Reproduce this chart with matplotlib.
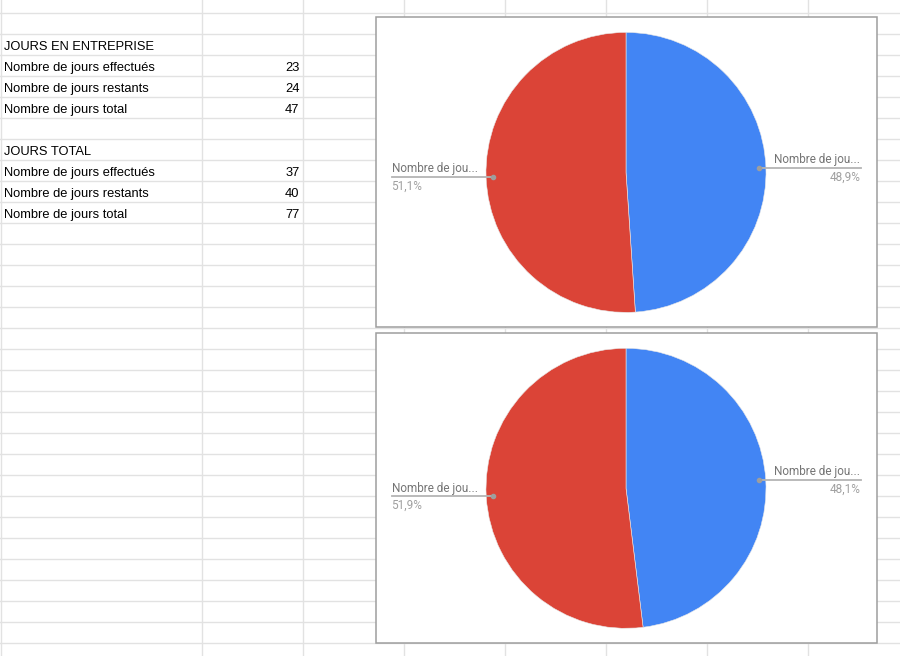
import matplotlib.pyplot as plt
from matplotlib.patches import Rectangle
import numpy as np

# spreadsheet data
sections = ["JOURS EN ENTREPRISE", "JOURS TOTAL"]
row_labels = ["Nombre de jours effectués", "Nombre de jours restants", "Nombre de jours total"]
entreprise = [23, 24, 47]
total = [37, 40, 77]

pie_colors = ["#4285F4", "#DB4437"]

W, H = 900, 656
fig = plt.figure(figsize=(W / 100, H / 100), dpi=100)
bg = fig.add_axes([0, 0, 1, 1])
bg.set_xlim(0, W)
bg.set_ylim(H, 0)
bg.axis("off")

grid_c = "#e2e2e2"
col_lines = [0.5, 202, 303, 404, 505, 606, 707, 808]
row_lines = [13 + 21 * k for k in range(31)]
for x in col_lines:
    bg.plot([x, x], [0, H], color=grid_c, lw=1, zorder=1)
for y in row_lines:
    bg.plot([0, W], [y, y], color=grid_c, lw=1, zorder=1)

# cells
cell_font = dict(family="Liberation Sans", fontsize=9.3, color="black", zorder=3)
def row_base(i):
    # baseline of text in row i (row i spans row_lines[i]..row_lines[i+1])
    return row_lines[i + 1] - 5

blocks = [(1, sections[0], entreprise), (6, sections[1], total)]
for start, title, vals in blocks:
    bg.text(4, row_base(start), title, va="baseline", ha="left", **cell_font)
    for j, (lab, v) in enumerate(zip(row_labels, vals)):
        r = start + 1 + j
        bg.text(4, row_base(r), lab, va="baseline", ha="left", **cell_font)
        bg.text(299.5, row_base(r), str(v), va="baseline", ha="right", **cell_font)

# chart boxes
boxes = [(375.5, 17.3, 876.5, 327.5), (375.5, 333.3, 876.5, 643.3)]
for x0, y0, x1, y1 in boxes:
    bg.add_patch(Rectangle((x0, y0), x1 - x0, y1 - y0, facecolor="white",
                           edgecolor="#9e9e9e", lw=1.1, zorder=4))

def short(s, n=13):
    return s[:n] + "..." if len(s) > n else s

R = 140
for (x0, y0, x1, y1), vals in zip(boxes, [entreprise, total]):
    cx, cy = (x0 + x1) / 2, (y0 + y1) / 2
    ax = fig.add_axes([(cx - R) / W, 1 - (cy + R) / H, 2 * R / W, 2 * R / H])
    ax.set_zorder(5)
    ax.patch.set_alpha(0)
    pie_vals = vals[:2]
    wedges, _ = ax.pie(pie_vals, colors=pie_colors, startangle=90, counterclock=False,
                       wedgeprops=dict(edgecolor="#e8e8e8", linewidth=0.4))
    ax.set_xlim(-1, 1)
    ax.set_ylim(-1, 1)
    ax.axis("off")
    tot = sum(pie_vals)
    for w, v, lab in zip(wedges, pie_vals, row_labels[:2]):
        mid = np.deg2rad((w.theta1 + w.theta2) / 2)
        dx, dy = 0.95 * np.cos(mid), 0.95 * np.sin(mid)
        side = 1 if dx > 0 else -1
        xend = side * 1.675
        ax.plot([dx, xend], [dy, dy], color="#b4b4b4", lw=1.3, clip_on=False)
        ax.plot(dx, dy, "o", ms=3, color="#9e9e9e", clip_on=False)
        ha = "right" if side > 0 else "left"
        ax.text(xend, dy + 0.012, short(lab), ha=ha, va="bottom", family="Roboto",
                fontsize=8.5, color="#757575", clip_on=False)
        pct = f"{100 * v / tot:.1f}".replace(".", ",") + "%"
        ax.text(xend, dy - 0.02, pct, ha=ha, va="top", family="Roboto",
                fontsize=8.5, color="#a0a0a0", clip_on=False)

fig.savefig("out.png", dpi=100)
